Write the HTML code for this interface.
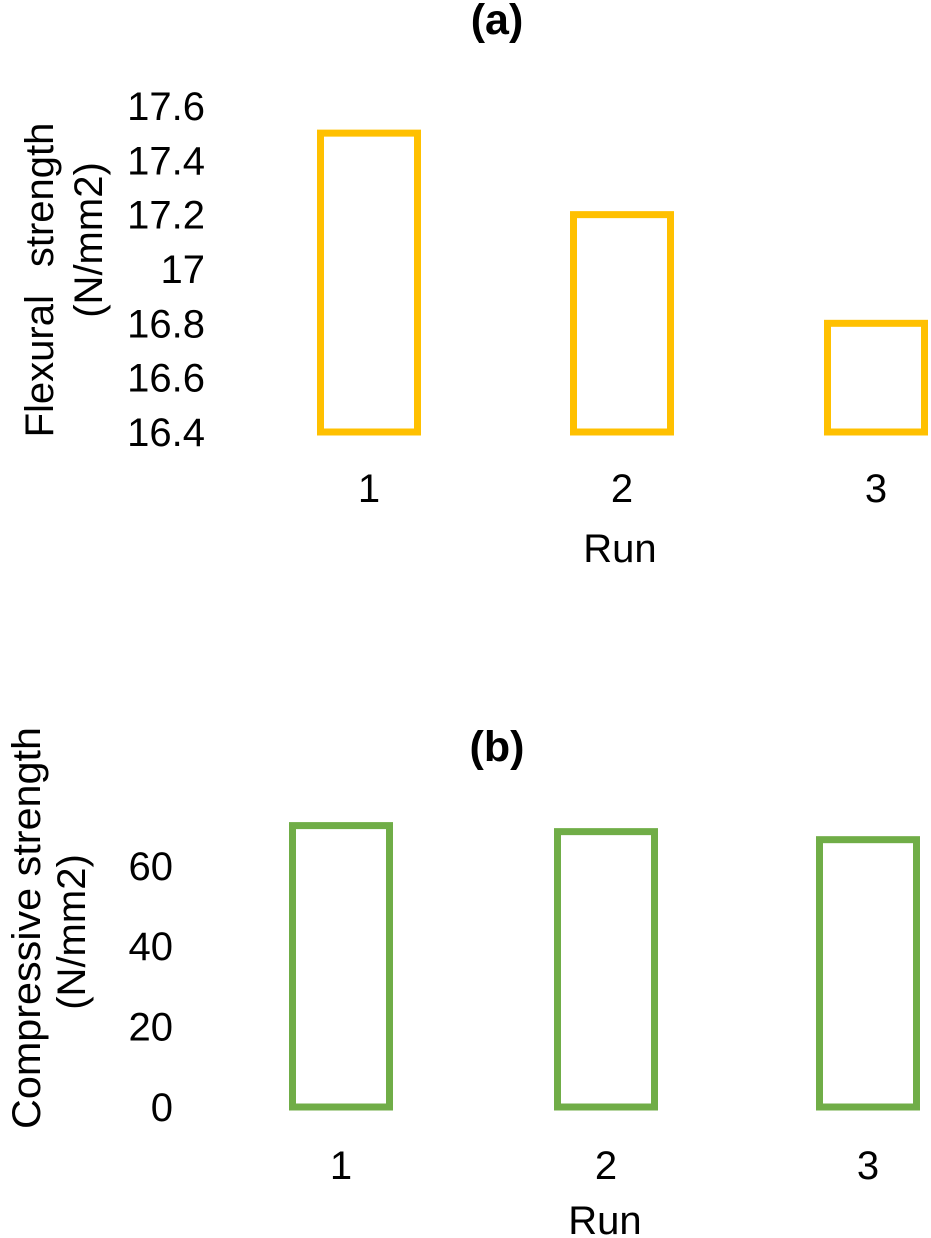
<!DOCTYPE html>
<html><head><meta charset="utf-8"><style>
html,body{margin:0;padding:0;background:#fff;}
svg{display:block;font-family:"Liberation Sans",Arial,sans-serif;}
</style></head><body>
<svg id="c" width="931" height="1238" viewBox="0 0 931 1238">
<text x="497" y="34" font-size="43" font-weight="bold" text-anchor="middle">(a)</text>
<text x="497" y="761" font-size="43" font-weight="bold" text-anchor="middle">(b)</text>
<text transform="translate(53,280) rotate(-90)" font-size="40" text-anchor="middle">Flexural<tspan dx="28">strength</tspan></text>
<text transform="translate(102,240) rotate(-90)" font-size="40" text-anchor="middle">(N/mm2)</text>
<text x="620" y="562" font-size="40" text-anchor="middle">Run</text>
<text transform="translate(40,928) rotate(-90)" font-size="40" text-anchor="middle" textLength="402" lengthAdjust="spacingAndGlyphs">Compressive strength</text>
<text transform="translate(85,932) rotate(-90)" font-size="40" text-anchor="middle">(N/mm2)</text>
<text x="605" y="1234" font-size="40" text-anchor="middle">Run</text>
<g id="ga"></g><g id="gb"></g>
</svg>
<script>
const categories = ["1","2","3"];
const flexValues = [17.5, 17.2, 16.8];
const flexTicks = [16.4, 16.6, 16.8, 17.0, 17.2, 17.4, 17.6];
const flexTickLabels = ["16.4","16.6","16.8","17","17.2","17.4","17.6"];
const compValues = [70, 68.5, 66.5];
const compTicks = [0, 20, 40, 60];
const compTickLabels = ["0","20","40","60"];
const NS = "http://www.w3.org/2000/svg";
function mk(tag, attrs, parent){const e=document.createElementNS(NS,tag);for(const k in attrs)e.setAttribute(k,attrs[k]);parent.appendChild(e);return e;}
function draw(g, vals, ticks, labels, yf, xc, bw, color, labRight, xLabY, prefix){
  ticks.forEach((t,i)=>{
    const e=mk('text',{x:labRight,y:yf(t)+14,'font-size':40,'text-anchor':'end'},g);
    e.textContent=labels[i];
    
    
  });
  vals.forEach((v,i)=>{
    const top=yf(v), bot=yf(ticks[0]);
    const r=mk('rect',{x:xc[i]-bw/2,y:top,width:bw,height:bot-top,fill:'none',stroke:color,'stroke-width':7},g);
    
    
    const t=mk('text',{x:xc[i],y:xLabY,'font-size':40,'text-anchor':'middle'},g);
    t.textContent=categories[i];
    
    
  });
}
const ya = v => 432 - (v-16.4)*271.7;
const yb = v => 1107 - v*4.02;
draw(document.getElementById('ga'), flexValues, flexTicks, flexTickLabels, ya, [369,622,876], 97, '#FFC000', 205, 502, 'panel-a');
draw(document.getElementById('gb'), compValues, compTicks, compTickLabels, yb, [341,606,868], 97, '#70AD47', 173, 1179, 'panel-b');
</script>
</body></html>
